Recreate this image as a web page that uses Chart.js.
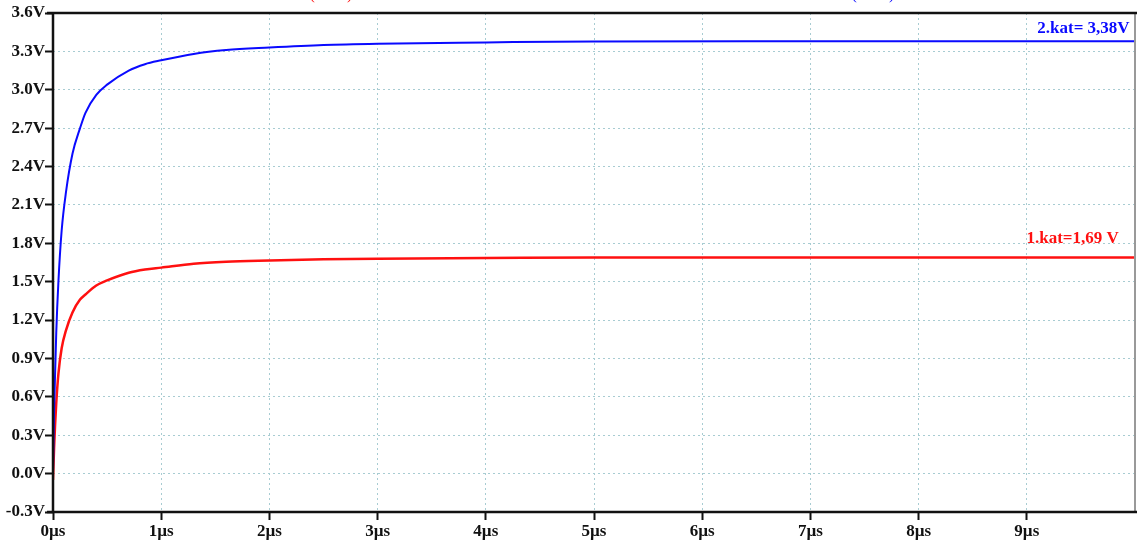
<!DOCTYPE html>
<html>
<head>
<meta charset="utf-8">
<script src="https://cdn.jsdelivr.net/npm/chart.js@4/dist/chart.umd.min.js"></script>
<style>
  html, body { margin: 0; padding: 0; background: #fff; }
  #wrap { width: 1137px; height: 540px; }
</style>
</head>
<body>
<div id="wrap"><canvas id="simChart" width="1137" height="540"></canvas></div>
<script>
/* ============================================================
   Données
   ============================================================ */
const timeUs    = [0, 0.01, 0.03, 0.05, 0.08, 0.12, 0.18, 0.25, 0.3, 0.4, 0.5, 0.7, 0.85, 1.0, 1.3, 1.6, 2.0, 2.5, 3.0, 4.0, 5.0, 7.0, 10.0];
const kat2Volts = [0, 0.5, 1.1, 1.5, 1.9, 2.2, 2.5, 2.7, 2.82, 2.96, 3.04, 3.15, 3.2, 3.23, 3.28, 3.31, 3.33, 3.35, 3.36, 3.37, 3.378, 3.38, 3.38];
const kat1Volts = [-0.05, 0.2, 0.55, 0.78, 0.98, 1.12, 1.26, 1.36, 1.4, 1.47, 1.51, 1.57, 1.595, 1.61, 1.64, 1.655, 1.665, 1.675, 1.68, 1.685, 1.69, 1.69, 1.69];
const xTicksUs  = [0, 1, 2, 3, 4, 5, 6, 7, 8, 9];
const labels    = ['2.kat= 3,38V', '1.kat=1,69 V'];
const traceNames = ['V(n002)', 'V(n003)'];

const BLUE = '#0a0aff';
const RED = '#ff1010';
const GRID = '#a8ccd2';
const FONT = "'Liberation Serif', 'Times New Roman', serif";

/* ============================================================
   Axes + étiquettes (plugin)
   ============================================================ */
const frame = {
    id: 'frame',
    afterDraw(chart) {
        const { ctx, chartArea: a } = chart;
        ctx.save();
        // bord droit gris
        ctx.strokeStyle = '#999';
        ctx.lineWidth = 2;
        ctx.beginPath();
        ctx.moveTo(a.right, a.top);
        ctx.lineTo(a.right, a.bottom);
        ctx.stroke();
        // axes noirs
        ctx.strokeStyle = '#111';
        ctx.lineWidth = 2.5;
        ctx.beginPath();
        ctx.moveTo(a.left, a.top);
        ctx.lineTo(a.left, a.bottom);
        ctx.moveTo(a.left - 6, a.top);
        ctx.lineTo(chart.width, a.top);
        ctx.moveTo(a.left - 6, a.bottom);
        ctx.lineTo(chart.width, a.bottom);
        ctx.stroke();

        const xs = chart.scales.x, ys = chart.scales.y;
        ctx.font = 'bold 17px ' + FONT;
        ctx.textAlign = 'right';
        ctx.textBaseline = 'bottom';
        ctx.fillStyle = BLUE;
        ctx.fillText(labels[0], xs.getPixelForValue(9.95), ys.getPixelForValue(3.38) - 4);
        ctx.fillStyle = RED;
        ctx.fillText(labels[1], xs.getPixelForValue(9.85), ys.getPixelForValue(1.69) - 10);

        // noms des traces (coupés en haut)
        ctx.textAlign = 'left';
        ctx.textBaseline = 'alphabetic';
        ctx.font = '16px ' + FONT;
        ctx.fillStyle = RED;
        ctx.fillText(traceNames[0], 298, -1);
        ctx.fillStyle = BLUE;
        ctx.fillText(traceNames[1], 840, -1);
        ctx.restore();
    }
};

/* ============================================================
   Graphique
   ============================================================ */
const ctx = document.getElementById('simChart').getContext('2d');
new Chart(ctx, {
    type: 'line',
    data: {
        datasets: [
            {
                label: '2.kat',
                data: timeUs.map((t, i) => ({ x: t, y: kat2Volts[i] })),
                borderColor: BLUE,
                borderWidth: 2,
                pointRadius: 0,
                cubicInterpolationMode: 'monotone'
            },
            {
                label: '1.kat',
                data: timeUs.map((t, i) => ({ x: t, y: kat1Volts[i] })),
                borderColor: RED,
                borderWidth: 2.5,
                pointRadius: 0,
                cubicInterpolationMode: 'monotone'
            }
        ]
    },
    options: {
        responsive: false,
        animation: false,
        events: [],
        layout: { padding: { top: 13, right: 2, left: 0, bottom: 0 } },
        plugins: { legend: { display: false }, tooltip: { enabled: false } },
        scales: {
            x: {
                type: 'linear',
                min: 0,
                max: 10,
                afterBuildTicks: axis => { axis.ticks = xTicksUs.map(v => ({ value: v })); },
                afterFit: axis => { axis.height = 28; },
                border: { display: false, dash: [2, 3] },
                grid: {
                    color: GRID,
                    lineWidth: 1,
                    tickColor: '#111',
                    tickLength: 8,
                    tickWidth: 2,
                    tickBorderDash: []
                },
                ticks: {
                    color: '#111',
                    font: { family: FONT, size: 17, weight: 'bold' },
                    padding: 1,
                    maxRotation: 0,
                    callback: v => v + 'µs'
                }
            },
            y: {
                min: -0.3,
                max: 3.6,
                afterFit: axis => { axis.width = 53; },
                border: { display: false, dash: [2, 3] },
                grid: {
                    color: GRID,
                    lineWidth: 1,
                    tickColor: '#111',
                    tickLength: 8,
                    tickWidth: 2,
                    tickBorderDash: []
                },
                ticks: {
                    stepSize: 0.3,
                    color: '#111',
                    font: { family: FONT, size: 17, weight: 'bold' },
                    padding: 0,
                    callback: v => (Math.abs(v) < 1e-9 ? 0 : v).toFixed(1) + 'V'
                }
            }
        }
    },
    plugins: [frame]
});
</script>
</body>
</html>
